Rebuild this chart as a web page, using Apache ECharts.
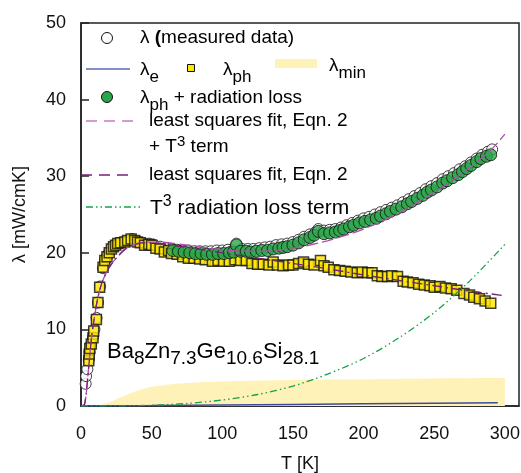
<!DOCTYPE html>
<html>
<head>
<meta charset="utf-8">
<script src="https://cdn.jsdelivr.net/npm/echarts@6/dist/echarts.min.js"></script>
<style>
  html, body { margin: 0; padding: 0; background: #fff; }
  #chart { width: 521px; height: 473px; }
</style>
</head>
<body>
<div id="chart"></div>
<script>
// measured thermal conductivity, open circles [T, lambda]
const measuredData = [
  [3.3,2.9],[3.6,3.9],[4.5,4.8],[5.5,6.0],[6,7],[7,8],[8.5,9],[9.5,10],[11,11.5],[12,13.5],
  [13.5,15.6],[15.5,18],[17,19],[18.5,19.6],[20,20.1],[22,20.7],[24,21],[26,21.2],[28,21.3],[30,21.4],
  [33,21.6],[36,21.8],[40,21.5],[44,21.2],[48,21.2],[52,21.0],[56,20.8],[60,20.6],[64,20.5],[68,20.4],
  [72,20.3],[76,20.3],[80,20.2],[84,20.2],[88,20.2],[92,20.2],[96,20.3],[100,20.3],[104,20.4],[108,20.4],
  [110,21.2],[114,20.5],[118,20.5],[122,20.5],[126,20.6],[130,20.7],[134,20.8],[138,21.0],[142,21.1],[146,21.2],
  [150,21.4],[154,21.7],[158,22.1],[162,22.4],[166,22.7],[168,23.1],[172,22.9],[176,23.0],[180,23.1],[184,23.3],
  [188,23.6],[192,23.9],[196,24.2],[200,24.5],[204,24.7],[208,25.0],[212,25.3],[216,25.6],[220,25.9],[224,26.2],
  [228,26.6],[232,27.0],[236,27.4],[240,27.8],[244,28.3],[248,28.7],[252,29.1],[256,29.6],[260,30.0],[264,30.4],
  [268,30.9],[272,31.3],[276,31.8],[280,32.3],[284,32.8],[288,33.2],[291,33.5]
];
// lambda_ph, yellow squares
const phononData = [
  [5.5,5.9],[5.8,6.8],[6.2,7.5],[7.3,8.1],[8.5,8.9],[9,9.8],[10.9,11.3],[12,13.5],[13.2,15.5],[15.6,18.1],
  [16.8,19.0],[18.4,19.5],[20,20.0],[21.5,20.5],[23,20.8],[24.5,21.0],[26,21.2],[28,21.3],[31,21.4],[33,21.6],
  [35.5,21.8],[38,21.6],[40,21.4],[42,21.3],[45,21.0],[48,21.1],[50,21.0],[53,20.6],[56,20.5],[59,20.1],
  [62,20.3],[64,19.9],[68,19.8],[72,19.5],[76,19.3],[80,19.3],[84,19.2],[88,19.1],[93,18.9],[97,19.0],
  [101,18.9],[105,18.9],[109,19.1],[113,19.0],[117,19.0],[121,18.6],[125,18.5],[129,18.5],[133,18.4],[136,18.8],
  [139,18.4],[143,18.3],[147,18.4],[150,18.4],[154,18.6],[157.5,18.8],[161,18.5],[165,18.4],[169.5,19.0],[172,18.3],
  [175,18.1],[179,17.8],[183,17.7],[187,17.6],[191,17.5],[195.5,17.4],[199,17.5],[203,17.4],[206,17.4],[209.7,17.0],
  [213,16.9],[217,16.9],[220,17.0],[224,16.9],[228,16.3],[231,16.2],[235,16.1],[239,15.9],[243,15.8],[247,15.7],
  [250,15.5],[254,15.6],[258,15.4],[262,15.3],[266,15.1],[271,14.7],[275,14.5],[278,14.2],[282,14.0],[286,13.7],
  [290,13.4]
];
// lambda_ph + radiation loss, green circles
const phononRadData = [
  [65,20.3],[69,20.2],[73,20.1],[77,20.0],[81,19.9],[85,19.9],[89,19.8],[93,19.8],[97,19.9],[101,19.9],
  [105,20.0],[108,20.1],[110,21.0],[113,20.2],[117,20.2],[120,20.1],[124,20.2],[128,20.3],[132,20.3],[136,20.5],
  [140,20.6],[143,20.7],[146,20.8],[150,21.0],[154,21.3],[158,21.7],[162,22.0],[165,22.3],[168,22.8],[172,22.5],
  [176,22.6],[180,22.7],[183,22.9],[186,23.1],[190,23.4],[193,23.6],[197,23.9],[201,24.1],[205,24.3],[209,24.5],
  [212,24.8],[216,25.1],[219,25.4],[223,25.7],[227,26.0],[231,26.4],[234,26.7],[238,27.1],[242,27.5],[245,27.9],
  [248,28.2],[252,28.6],[256,29.1],[259,29.4],[263,29.8],[267,30.2],[270,30.6],[273,31.0],[276,31.4],[280,31.9],
  [283,32.3],[287,32.6],[290,32.8]
];
// least squares fit, Eqn. 2 + T^3 term
const fitT3Data = [
  [0,0],[2.5,0.2],[5,4.2],[7.5,9.0],[10,12.2],[12,14.2],[15,16.2],[20,18.1],[25,19.3],[33,20.7],
  [45,21.4],[55,21.4],[75,21.0],[100,20.4],[125,20.2],[150,20.6],[175,21.6],[200,23.1],[225,25.2],[250,27.9],
  [275,31.1],[290,33.4],[300,35.5]
];
// least squares fit, Eqn. 2
const fitData = [
  [0,0],[2.5,0.2],[5,4.2],[7.5,9.0],[10,12.2],[12,14.2],[15,16.2],[20,18.1],[25,19.3],[33,20.7],
  [45,21.3],[55,21.2],[75,20.7],[100,20.0],[125,19.3],[150,18.6],[175,17.9],[200,17.1],[225,16.4],[250,15.7],
  [275,15.0],[300,14.4]
];
// T^3 radiation loss term
const radTermData = [
  [0,0],[25,0.01],[50,0.1],[75,0.33],[100,0.78],[125,1.5],[150,2.6],[175,4.2],[200,6.2],[225,8.9],
  [250,12.2],[275,16.3],[300,21.1]
];
// lambda_e
const electronData = [[0,0],[50,0.05],[100,0.12],[150,0.2],[200,0.28],[250,0.36],[295,0.43]];
// lambda_min
const lambdaMinData = [
  [10,0],[20,0.5],[30,1.3],[40,2.0],[50,2.5],[60,2.75],[75,3.0],[100,3.2],[150,3.4],[200,3.5],[250,3.6],[300,3.65]
];

const FONT = '"Liberation Sans", Arial, sans-serif';
const cFitT3 = '#b24db2';
const cFit = '#7a1f78';
const cRad = '#17a04a';
const cElec = '#3c4a9c';
const cYellow = '#ffe600';
const cGreen = '#2aa64a';
const cMin = '#fff2b8';

const sub = { fontSize: 17, fontFamily: FONT, color: '#111', padding: [14, 0, 0, 0] };
const sup = { fontSize: 15, fontFamily: FONT, color: '#111', padding: [0, 0, 11, 0] };
const nrm = { fontSize: 19, fontFamily: FONT, color: '#111' };
const big = { fontSize: 21, fontFamily: FONT, color: '#111' };
const supBig = { fontSize: 16, fontFamily: FONT, color: '#111', padding: [0, 0, 12, 0] };
const bold = { fontSize: 19, fontFamily: FONT, color: '#111', fontWeight: 'bold' };

function label(x, y, text, rich) {
  return { type: 'text', x: x, y: y, z: 100,
    style: { text: text, rich: rich || { n: nrm, s: sub, p: sup, b: bold, g: big, q: supBig },
      verticalAlign: 'middle', align: 'left' } };
}

const chart = echarts.init(document.getElementById('chart'));
chart.setOption({
  animation: false,
  backgroundColor: '#fff',
  grid: { left: 81, right: 2, top: 23, bottom: 67, show: true, borderColor: '#222', borderWidth: 1.5,
    containLabel: false, outerBoundsMode: 'none' },
  xAxis: {
    type: 'value', min: 0, max: 310, interval: 50,
    name: 'T [K]', nameLocation: 'middle', nameGap: 49,
    nameTextStyle: { fontSize: 18, fontFamily: FONT, color: '#111' },
    axisLine: { lineStyle: { color: '#222', width: 1.5 } },
    axisTick: { show: false },
    splitLine: { show: false },
    axisLabel: { fontSize: 18, fontFamily: FONT, color: '#111', margin: 19,
      formatter: v => (v % 50 === 0 ? String(v) : '') }
  },
  yAxis: {
    type: 'value', min: 0, max: 50, interval: 10,
    name: 'λ [mW/cmK]', nameLocation: 'middle', nameGap: 52, nameRotate: 90,
    nameTextStyle: { fontSize: 18, fontFamily: FONT, color: '#111' },
    axisLine: { lineStyle: { color: '#222', width: 1.5 } },
    axisTick: { inside: true, length: 8, lineStyle: { color: '#222', width: 1.5 } },
    splitLine: { show: false },
    axisLabel: { fontSize: 18, fontFamily: FONT, color: '#111', margin: 15 }
  },
  series: [
    { name: 'λmin', type: 'line', data: lambdaMinData, smooth: 0.4, symbol: 'none',
      lineStyle: { width: 0 }, areaStyle: { color: cMin, opacity: 1 }, z: 1 },
    { name: 'λe', type: 'line', data: electronData, symbol: 'none',
      lineStyle: { color: cElec, width: 1.5 }, z: 2 },
    { name: 'measured', type: 'scatter', data: measuredData, symbol: 'circle', symbolSize: 11,
      itemStyle: { color: '#fff', borderColor: '#111', borderWidth: 1 }, z: 3 },
    { name: 'λph', type: 'scatter', data: phononData, symbol: 'rect', symbolSize: 10,
      itemStyle: { color: cYellow, borderColor: '#111', borderWidth: 1.5 }, z: 4 },
    { name: 'λph + radiation loss', type: 'scatter', data: phononRadData, symbol: 'circle', symbolSize: 12,
      itemStyle: { color: cGreen, borderColor: '#111', borderWidth: 1 }, z: 5 },
    { name: 'fitT3', type: 'line', data: fitT3Data, smooth: 0.3, symbol: 'none',
      lineStyle: { color: cFitT3, width: 1.3, type: [12, 4] }, z: 6 },
    { name: 'fit', type: 'line', data: fitData, smooth: 0.3, symbol: 'none',
      lineStyle: { color: cFit, width: 1.3, type: [10, 4, 2, 4] }, z: 6 },
    { name: 'T3', type: 'line', data: radTermData, smooth: 0.3, symbol: 'none',
      lineStyle: { color: cRad, width: 1.3, type: [7, 3, 1.5, 3, 1.5, 3] }, z: 6 }
  ],
  graphic: [
    // legend
    { type: 'circle', shape: { cx: 107, cy: 38, r: 5.5 }, style: { fill: '#fff', stroke: '#111', lineWidth: 1 }, z: 100 },
    label(140, 38, '{n|λ }{b|(}{n|measured data)}'),
    { type: 'line', shape: { x1: 86, y1: 69, x2: 130, y2: 69 }, style: { stroke: '#5a68b0', lineWidth: 1.5 }, z: 100 },
    label(140, 70, '{n|λ}{s|e}'),
    { type: 'rect', shape: { x: 187.5, y: 64.5, width: 7, height: 7 }, style: { fill: cYellow, stroke: '#111', lineWidth: 1 }, z: 100 },
    label(223, 70, '{n|λ}{s|ph}'),
    { type: 'rect', shape: { x: 275, y: 59, width: 42, height: 9 }, style: { fill: cMin }, z: 100 },
    label(329, 66, '{n|λ}{s|min}'),
    { type: 'circle', shape: { cx: 107, cy: 97, r: 5.5 }, style: { fill: cGreen, stroke: '#111', lineWidth: 1 }, z: 100 },
    label(140, 98, '{n|λ}{s|ph}{n| + radiation loss}'),
    { type: 'line', shape: { x1: 86, y1: 121, x2: 136, y2: 121 }, style: { stroke: '#c77ac7', lineWidth: 1.5, lineDash: [11, 7] }, z: 100 },
    label(149, 121, '{n|least squares fit, Eqn. 2}'),
    label(149, 147, '{n|+ T}{p|3}{n| term}'),
    { type: 'line', shape: { x1: 81, y1: 175, x2: 135, y2: 175 }, style: { stroke: cFit, lineWidth: 1.3, lineDash: [11, 7] }, z: 100 },
    label(149, 175, '{n|least squares fit, Eqn. 2}'),
    { type: 'line', shape: { x1: 86, y1: 207, x2: 142, y2: 207 }, style: { stroke: cRad, lineWidth: 1.3, lineDash: [7, 3, 1.5, 3, 1.5, 3] }, z: 100 },
    label(150, 208, '{g|T}{q|3}{g| radiation loss term}'),
    // compound label
    label(107, 352, '{n|Ba}{s|8}{n|Zn}{s|7.3}{n|Ge}{s|10.6}{n|Si}{s|28.1}',
      { n: { fontSize: 22, fontFamily: FONT, color: '#111' }, s: { fontSize: 19, fontFamily: FONT, color: '#111', padding: [14, 0, 0, 0] } })
  ]
});
</script>
</body>
</html>
